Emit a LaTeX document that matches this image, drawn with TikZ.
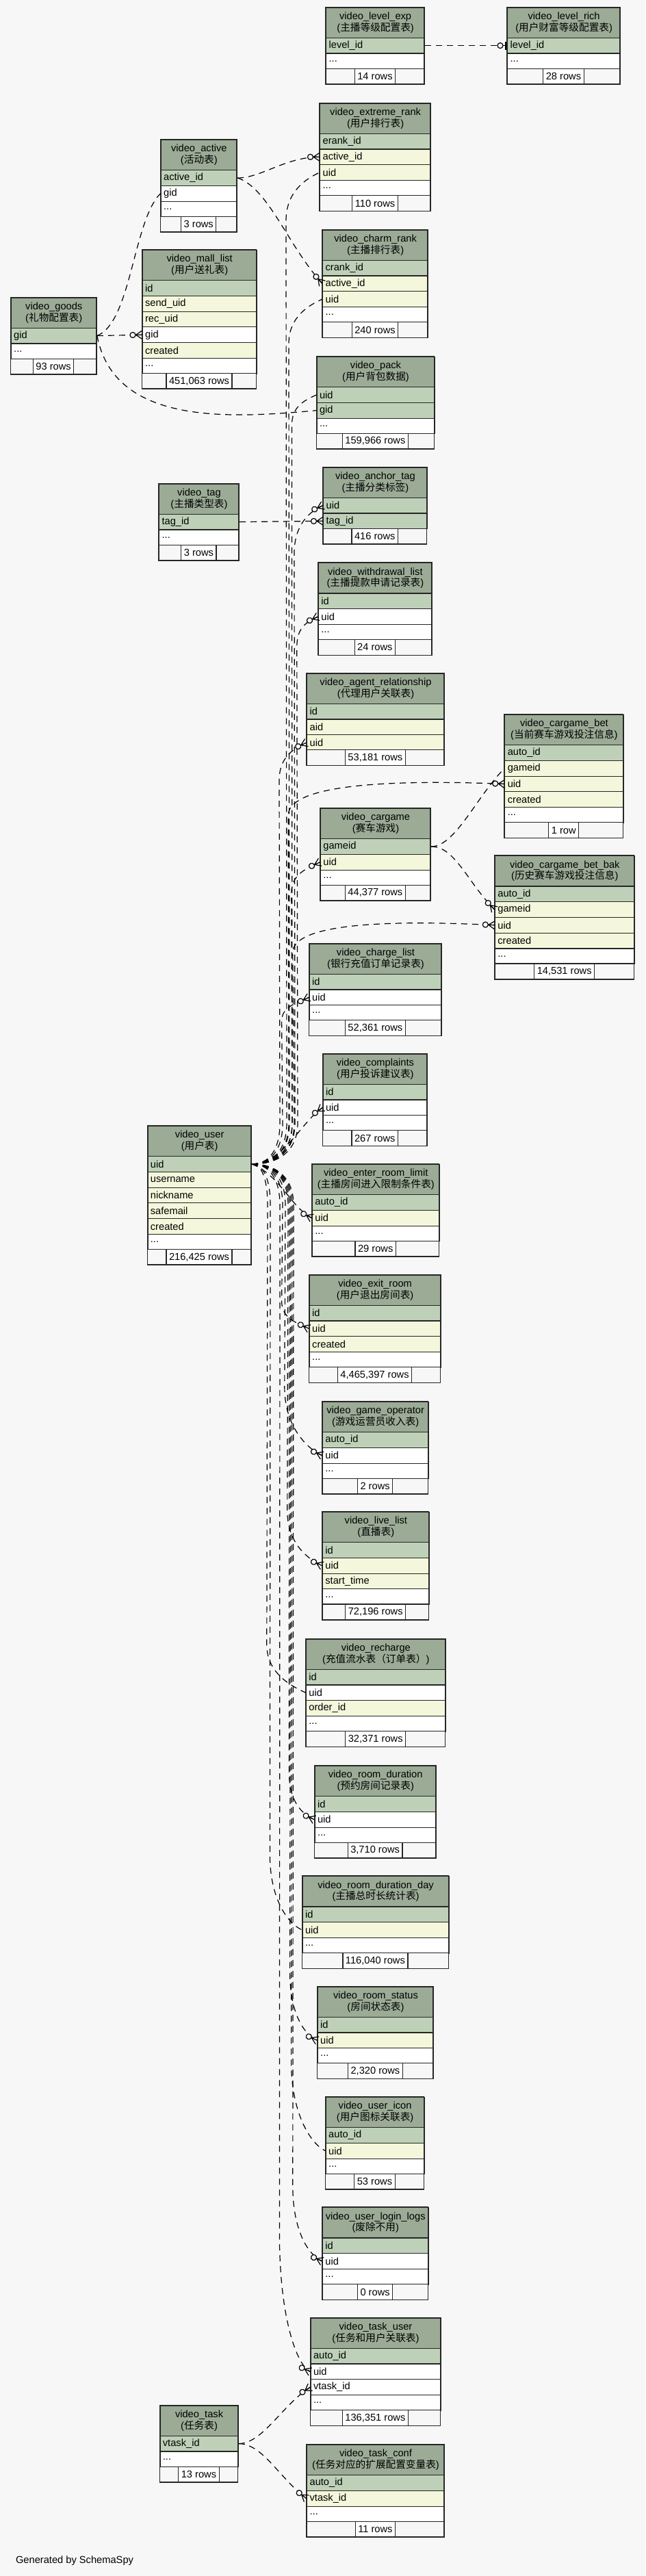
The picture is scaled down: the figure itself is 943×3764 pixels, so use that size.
\documentclass[tikz,border=0pt]{standalone}
\usepackage{fontspec}
\setmainfont{Liberation Sans}
\newfontfamily\cjk{Noto Sans CJK SC}
\usetikzlibrary{calc}
\usetikzlibrary{decorations.markings}
\definecolor{bgcol}{RGB}{247,247,247}
\definecolor{headcol}{RGB}{155,171,150}
\definecolor{keycol}{RGB}{190,209,184}
\definecolor{idxcol}{RGB}{244,247,219}
\tikzset{cellline/.style={draw=black!85,line width=0.6pt}}

% end marks of a link, drawn along the end tangent
\newcommand\crowfoot{%
  \draw[solid,line width=0.6pt] (-4.5pt,0pt) -- (0pt,3pt) (-4.5pt,0pt) -- (0pt,0pt) (-4.5pt,0pt) -- (0pt,-3pt);
  \draw[solid,line width=0.6pt,fill=bgcol] (-6.75pt,0pt) circle (2pt);}
\newcommand\teefoot{%
  \draw[solid,line width=1.2pt] (-1pt,-3pt) -- (-1pt,3pt);
  \draw[solid,line width=0.6pt,fill=bgcol] (-5pt,0pt) circle (2pt);}

\newcommand\rowtext[1]{\edef\tmpa{#1}\def\tmpb{more}\ifx\tmpa\tmpb ...\else#1\fi}

% one table: id, left, right, top, name, comment, rows, count
\newcommand\dbtable[8]{%
  \pgfmathsetmacro\tbw{(#3-#2)*0.5}
  \pgfmathsetmacro\tbt{(#3-#2-8)*0.5}
  \node[tablehead,minimum width=\tbw pt] (#1) at (#2,#4) {#5\\#6};
  \foreach \kind/\col [count=\i from 0] in {#7} {
    \node[rowcell,fill=\kind,minimum width=\tbw pt,text width=\tbt pt] (#1-\col) at (#2,#4+44.3+\i*22.75) {\rowtext{\col}};
    \xdef\nrows{\i}
  }
  \pgfmathsetmacro\fy{#4+44.3+(\nrows+1)*22.75}
  \draw[cellline,fill=bgcol] (#2,\fy) rectangle (#3,\fy+22.75);
  \node[countcell] (#1-rows) at ({(#2+#3)/2},\fy+11.375) {#8};
  \draw[cellline,line width=0.8pt] (#2,#4) rectangle (#3,\fy+22.75);
}

% links out of video_user.uid: target, fan dx, lane dx back, bend
\newcommand\uidup[4]{%
  \draw[fklink] (user-uid.east) .. controls +(0.6*#2,0) and +(0,40) .. ($(user-uid.east)+(#2,-60)$)
    -- ($(#1.west)+(-#3,#4)$) .. controls +(0,-0.6*#4) and +(-20,9) .. (#1.west);}
\newcommand\uiddown[4]{%
  \draw[fklink] (user-uid.east) .. controls +(0.6*#2,0) and +(0,-40) .. ($(user-uid.east)+(#2,60)$)
    -- ($(#1.west)+(-#3,-#4)$) .. controls +(0,0.6*#4) and +(-20,-9) .. (#1.west);}

\begin{document}
\catcode`\_=12
\begin{tikzpicture}[x=0.5pt,y=-0.5pt]
  \tikzset{every node/.style={font=\fontsize{7.33}{8.3}\selectfont}}
  \tikzset{tablehead/.style={cellline,fill=headcol,anchor=north west,inner sep=0pt,minimum height=22.15pt,align=center}}
  \tikzset{rowcell/.style={cellline,anchor=north west,inner xsep=2pt,inner ysep=0pt,minimum height=11.375pt,align=left}}
  \tikzset{countcell/.style={cellline,fill=white,inner xsep=2pt,inner ysep=0pt,minimum height=11.375pt}}
  \tikzset{fklink/.style={line width=0.6pt,dash pattern=on 4.5pt off 3.5pt,
    postaction={decorate,decoration={markings,mark=at position 1 with {\crowfoot}}}}}
  \tikzset{uniquelink/.style={line width=0.6pt,dash pattern=on 4.5pt off 3.5pt,
    postaction={decorate,decoration={markings,mark=at position 1 with {\teefoot}}}}}

  \fill[bgcol] (0,0) rectangle (943,3764);
  \useasboundingbox (0,0) rectangle (943,3764);

  % tables
  \dbtable{lvlexp}{476}{620}{10.3}{video_level_exp}{({\cjk 主播等级配置表})}{keycol/level_id,white/more}{14 rows}
  \dbtable{lvlrich}{741}{906}{10.3}{video_level_rich}{({\cjk 用户财富等级配置表})}{keycol/level_id,white/more}{28 rows}
  \dbtable{xrank}{467}{629}{150.3}{video_extreme_rank}{({\cjk 用户排行表})}{keycol/erank_id,idxcol/active_id,idxcol/uid,white/more}{110 rows}
  \dbtable{active}{234.5}{346}{203.7}{video_active}{({\cjk 活动表})}{keycol/active_id,white/gid,white/more}{3 rows}
  \dbtable{crank}{471}{625}{335.3}{video_charm_rank}{({\cjk 主播排行表})}{keycol/crank_id,idxcol/active_id,idxcol/uid,white/more}{240 rows}
  \dbtable{mall}{207.5}{374.6}{364.7}{video_mall_list}{({\cjk 用户送礼表})}{keycol/id,idxcol/send_uid,idxcol/rec_uid,white/gid,idxcol/created,white/more}{451,063 rows}
  \dbtable{goods}{15.6}{140.7}{434.3}{video_goods}{({\cjk 礼物配置表})}{keycol/gid,white/more}{93 rows}
  \dbtable{pack}{462.4}{634.4}{520.7}{video_pack}{({\cjk 用户背包数据})}{keycol/uid,keycol/gid,white/more}{159,966 rows}
  \dbtable{atag}{472}{623.6}{682.3}{video_anchor_tag}{({\cjk 主播分类标签})}{keycol/uid,keycol/tag_id}{416 rows}
  \dbtable{tag}{232}{348.8}{706.3}{video_tag}{({\cjk 主播类型表})}{keycol/tag_id,white/more}{3 rows}
  \dbtable{wdraw}{464.8}{630.8}{822}{video_withdrawal_list}{({\cjk 主播提款申请记录表})}{keycol/id,white/uid,white/more}{24 rows}
  \dbtable{agent}{448}{648.8}{983.3}{video_agent_relationship}{({\cjk 代理用户关联表})}{keycol/id,idxcol/aid,idxcol/uid}{53,181 rows}
  \dbtable{cbet}{737.2}{910.4}{1043.7}{video_cargame_bet}{({\cjk 当前赛车游戏投注信息})}{keycol/auto_id,idxcol/gameid,idxcol/uid,idxcol/created,white/more}{1 row}
  \dbtable{cargame}{467.8}{629}{1180.7}{video_cargame}{({\cjk 赛车游戏})}{keycol/gameid,idxcol/uid,white/more}{44,377 rows}
  \dbtable{cbak}{722.8}{926.6}{1250}{video_cargame_bet_bak}{({\cjk 历史赛车游戏投注信息})}{keycol/auto_id,idxcol/gameid,idxcol/uid,idxcol/created,white/more}{14,531 rows}
  \dbtable{charge}{451.6}{645.2}{1378.3}{video_charge_list}{({\cjk 银行充值订单记录表})}{keycol/id,white/uid,white/more}{52,361 rows}
  \dbtable{compl}{471.4}{624.2}{1539.3}{video_complaints}{({\cjk 用户投诉建议表})}{keycol/id,white/uid,white/more}{267 rows}
  \dbtable{user}{215.3}{366.8}{1644.7}{video_user}{({\cjk 用户表})}{keycol/uid,idxcol/username,idxcol/nickname,idxcol/safemail,idxcol/created,white/more}{216,425 rows}
  \dbtable{enter}{455.8}{641.6}{1700.7}{video_enter_room_limit}{({\cjk 主播房间进入限制条件表})}{keycol/auto_id,idxcol/uid,white/more}{29 rows}
  \dbtable{exit}{451.6}{643.4}{1862.3}{video_exit_room}{({\cjk 用户退出房间表})}{keycol/id,idxcol/uid,idxcol/created,white/more}{4,465,397 rows}
  \dbtable{gameop}{470.8}{625.4}{2047.7}{video_game_operator}{({\cjk 游戏运营员收入表})}{keycol/auto_id,white/uid,white/more}{2 rows}
  \dbtable{live}{470.8}{626.6}{2208.7}{video_live_list}{({\cjk 直播表})}{keycol/id,idxcol/uid,idxcol/start_time,white/more}{72,196 rows}
  \dbtable{recharge}{446.8}{650.6}{2394.3}{video_recharge}{({\cjk 充值流水表（订单表）})}{keycol/id,white/uid,idxcol/order_id,white/more}{32,371 rows}
  \dbtable{rdur}{459.4}{636.8}{2579.7}{video_room_duration}{({\cjk 预约房间记录表})}{keycol/id,white/uid,white/more}{3,710 rows}
  \dbtable{rday}{441.4}{655.5}{2741}{video_room_duration_day}{({\cjk 主播总时长统计表})}{keycol/id,idxcol/uid,white/more}{116,040 rows}
  \dbtable{rstat}{463.6}{633.2}{2902.3}{video_room_status}{({\cjk 房间状态表})}{keycol/id,idxcol/uid,white/more}{2,320 rows}
  \dbtable{icon}{475.6}{619.4}{3063.7}{video_user_icon}{({\cjk 用户图标关联表})}{keycol/auto_id,idxcol/uid,white/more}{53 rows}
  \dbtable{login}{470.8}{625.4}{3225}{video_user_login_logs}{({\cjk 废除不用})}{keycol/id,white/uid,white/more}{0 rows}
  \dbtable{tuser}{453.4}{643.4}{3386.3}{video_task_user}{({\cjk 任务和用户关联表})}{keycol/auto_id,white/uid,white/vtask_id,white/more}{136,351 rows}
  \dbtable{task}{233.3}{347.6}{3514.3}{video_task}{({\cjk 任务表})}{keycol/vtask_id,white/more}{13 rows}
  \dbtable{tconf}{448}{648.8}{3571.7}{video_task_conf}{({\cjk 任务对应的扩展配置变量表})}{keycol/auto_id,idxcol/vtask_id,white/more}{11 rows}

  % links between tables
  \draw[uniquelink] (lvlexp-level_id.east) -- (lvlrich-level_id.west);
  \draw[fklink] (active-active_id.east) .. controls +(35,0) and +(-50,0) .. (xrank-active_id.west);
  \draw[fklink] (active-active_id.east) .. controls +(45,15) and +(-50,-55) .. (crank-active_id.west);
  \draw[fklink] (goods-gid.east) .. controls +(50,-20) and +(-40,40) .. (active-gid.west);
  \draw[fklink] (goods-gid.east) -- (mall-gid.west);
  \draw[fklink] (goods-gid.east) .. controls +(25,130) and +(-130,12) .. (pack-gid.west);
  \draw[fklink] (tag-tag_id.east) -- (atag-tag_id.west);
  \draw[fklink] (cargame-gameid.east) .. controls +(35,0) and +(-40,40) .. (cbet-gameid.west);
  \draw[fklink] (cargame-gameid.east) .. controls +(35,0) and +(-40,-40) .. (cbak-gameid.west);
  \draw[fklink] (task-vtask_id.east) .. controls +(35,0) and +(-40,25) .. (tuser-vtask_id.west);
  \draw[fklink] (task-vtask_id.east) .. controls +(35,0) and +(-40,-30) .. (tconf-vtask_id.west);

  % links from video_user.uid
  \uidup{xrank-uid}{51}{49}{70}
  \uidup{crank-uid}{55}{49}{65}
  \uidup{pack-uid}{59}{36}{45}
  \uidup{atag-uid}{63}{42}{70}
  \uidup{wdraw-uid}{67}{31}{45}
  \uidup{agent-uid}{41}{40}{55}
  \uidup{cargame-uid}{59}{42}{45}
  \uidup{charge-uid}{45}{40}{35}
  \draw[fklink] (user-uid.east) .. controls +(32,0) and +(0,40) .. ($(user-uid.east)+(54,-60)$)
    -- ($(cbet-uid.west)+(-316,46)$) .. controls +(0,-40) and +(-200,-8) .. (cbet-uid.west);
  \draw[fklink] (user-uid.east) .. controls +(37,0) and +(0,40) .. ($(user-uid.east)+(62,-60)$)
    -- ($(cbak-uid.west)+(-295,40)$) .. controls +(0,-35) and +(-200,-10) .. (cbak-uid.west);
  \draw[fklink] (user-uid.east) .. controls +(50,-5) and +(-35,25) .. (compl-uid.west);
  \draw[fklink] (user-uid.east) .. controls +(40,15) and +(-30,-15) .. (enter-uid.west);
  \uiddown{exit-uid}{45}{40}{40}
  \uiddown{gameop-uid}{49}{55}{100}
  \uiddown{live-uid}{53}{51}{80}
  \uiddown{recharge-uid}{23}{57}{70}
  \uiddown{rdur-uid}{55}{37}{70}
  \uiddown{rday-uid}{27}{47}{110}
  \uiddown{rstat-uid}{57}{40}{100}
  \uiddown{icon-uid}{59}{50}{130}
  \uiddown{login-uid}{61}{43}{110}
  \uiddown{tuser-uid}{41}{45}{200}

  \node[anchor=west] (credit) at (16,3741.7) {Generated by SchemaSpy};
\end{tikzpicture}
\end{document}
